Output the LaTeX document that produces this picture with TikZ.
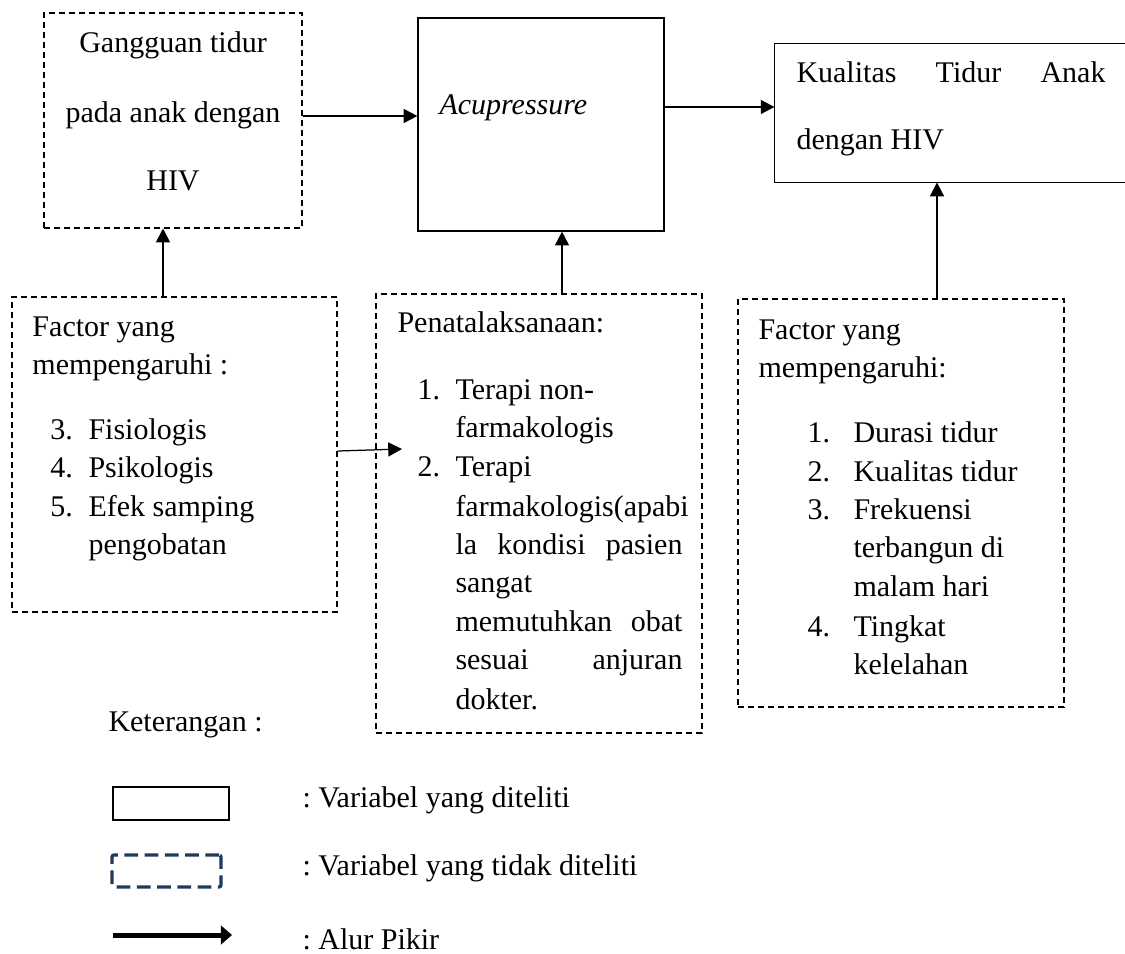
\documentclass[tikz,border=0pt]{standalone}
\usepackage{fontspec}
\setmainfont{Liberation Serif}
\usetikzlibrary{arrows.meta,fit}
\definecolor{legnavy}{HTML}{1F3A5A}
\newcommand{\justline}[1]{\makebox[90.8pt][s]{#1}}
\frenchspacing

\begin{document}
\begin{tikzpicture}[x=0.4pt, y=-0.4pt,
    txt/.style={anchor=base west, inner sep=0, font=\fontsize{12}{14}\selectfont},
    ctxt/.style={txt, anchor=base},
    solidbox/.style={draw, line width=0.5pt, inner sep=0},
    dashbox/.style={draw, line width=0.45pt, dash pattern=on 2.4pt off 1.6pt, inner sep=0},
    arr/.style={-{Triangle[length=5.5pt,width=5.6pt]}, line width=0.5pt}]
            \useasboundingbox (0,0) rectangle (1125,953);

            % kotak baris atas
            \node[dashbox, fit={(44,13) (302,228)}] (gangguan) {};
            \node[solidbox, fit={(418,18) (664,231)}] (acu) {};
            \node[inner sep=0, fit={(775,44) (1125,182)}] (kual) {};
            \draw[line width=0.5pt] (kual.north east) -- (kual.north west) -- (kual.south west) -- (kual.south east); % sisi kanan terpotong

            \node[ctxt] (g1) at (173,52) {Gangguan tidur};
            \node[ctxt] (g2) at (173,122) {pada anak dengan};
            \node[ctxt] (g3) at (173,190) {HIV};
            \node[txt] (acutxt) at (439,114) {\textit{Acupressure}};
            \node[txt] (k1) at (796,82) {\makebox[123.6pt][s]{Kualitas Tidur Anak}};
            \node[txt] (k2) at (796,149) {dengan HIV};

            % kotak baris bawah
            \node[dashbox, fit={(12,297) (337,612)}] (faktorA) {};
            \node[dashbox, fit={(376,294) (702,733)}] (tatalaksana) {};
            \node[dashbox, fit={(738,299) (1064,707)}] (faktorB) {};

            % faktor kiri
            \node[txt] (fa1) at (32,336) {Factor yang};
            \node[txt] (fa2) at (32,374) {mempengaruhi :};
            \foreach \n/\y in {3/439,4/477,5/516}
                \node[txt] (fanum\n) at (50,\y) {\n.};
            \foreach \y/\t [count=\i] in {439/Fisiologis, 477/Psikologis, 516/Efek samping, 554/pengobatan}
                \node[txt] (faitem\i) at (88,\y) {\t};

            % penatalaksanaan
            \node[txt] (tl0) at (397,332) {Penatalaksanaan:};
            \foreach \n/\y in {1/399,2/476}
                \node[txt] (tlnum\n) at (417,\y) {\n.};
            \foreach \y/\t [count=\i] in {399/Terapi non-, 437/farmakologis, 476/Terapi, 516/farmakologis(apabi,
                554/\justline{la kondisi pasien}, 592/sangat, 631/\justline{memutuhkan obat},
                669/\justline{sesuai anjuran}, 709/dokter.}
                \node[txt] (tlitem\i) at (455,\y) {\t};

            % faktor kanan
            \node[txt] (fb1) at (758,339) {Factor yang};
            \node[txt] (fb2) at (758,377) {mempengaruhi:};
            \foreach \n/\y in {1/442,2/481,3/519,4/636}
                \node[txt] (fbnum\n) at (807,\y) {\n.};
            \foreach \y/\t [count=\i] in {442/Durasi tidur, 481/Kualitas tidur, 519/Frekuensi, 557/terbangun di,
                596/malam hari, 636/Tingkat, 674/kelelahan}
                \node[txt] (fbitem\i) at (853,\y) {\t};

            % panah alur
            \draw[arr] (gangguan.east |- 0,116) -- (acu.west |- 0,116);
            \draw[arr] (acu.east |- 0,107) -- (kual.west |- 0,107);
            \draw[arr] (faktorA.north -| 163,0) -- (gangguan.south -| 163,0);
            \draw[arr] (tatalaksana.north -| 562,0) -- (acu.south -| 562,0);
            \draw[arr] (faktorB.north -| 937,0) -- (kual.south -| 937,0);
            \coordinate (tlin) at (402,449);
            \draw[arr] (faktorA.east |- 0,451) -- (tlin); % masuk ke kotak tengah

            % keterangan
            \node[txt] (ket) at (108,731) {Keterangan :};
            \node[solidbox, fit={(113,787) (229,820)}] (legsolid) {};
            \node[draw=legnavy, line width=1.3pt, dash pattern=on 5.5pt off 2.6pt, rounded corners=0.8pt,
                inner sep=0, fit={(112,855) (221,887)}] (legdash) {};
            \coordinate (legA) at (113,935);
            \coordinate (legB) at (232,935);
            \draw[line width=2pt, -{Triangle[length=4.5pt,width=7.5pt]}] (legA) -- (legB);
            \node[txt] (lt1) at (302,807) {: Variabel yang diteliti};
            \node[txt] (lt2) at (302,875) {: Variabel yang tidak diteliti};
            \node[txt] (lt3) at (302,949) {: Alur Pikir};
\end{tikzpicture}
\end{document}
